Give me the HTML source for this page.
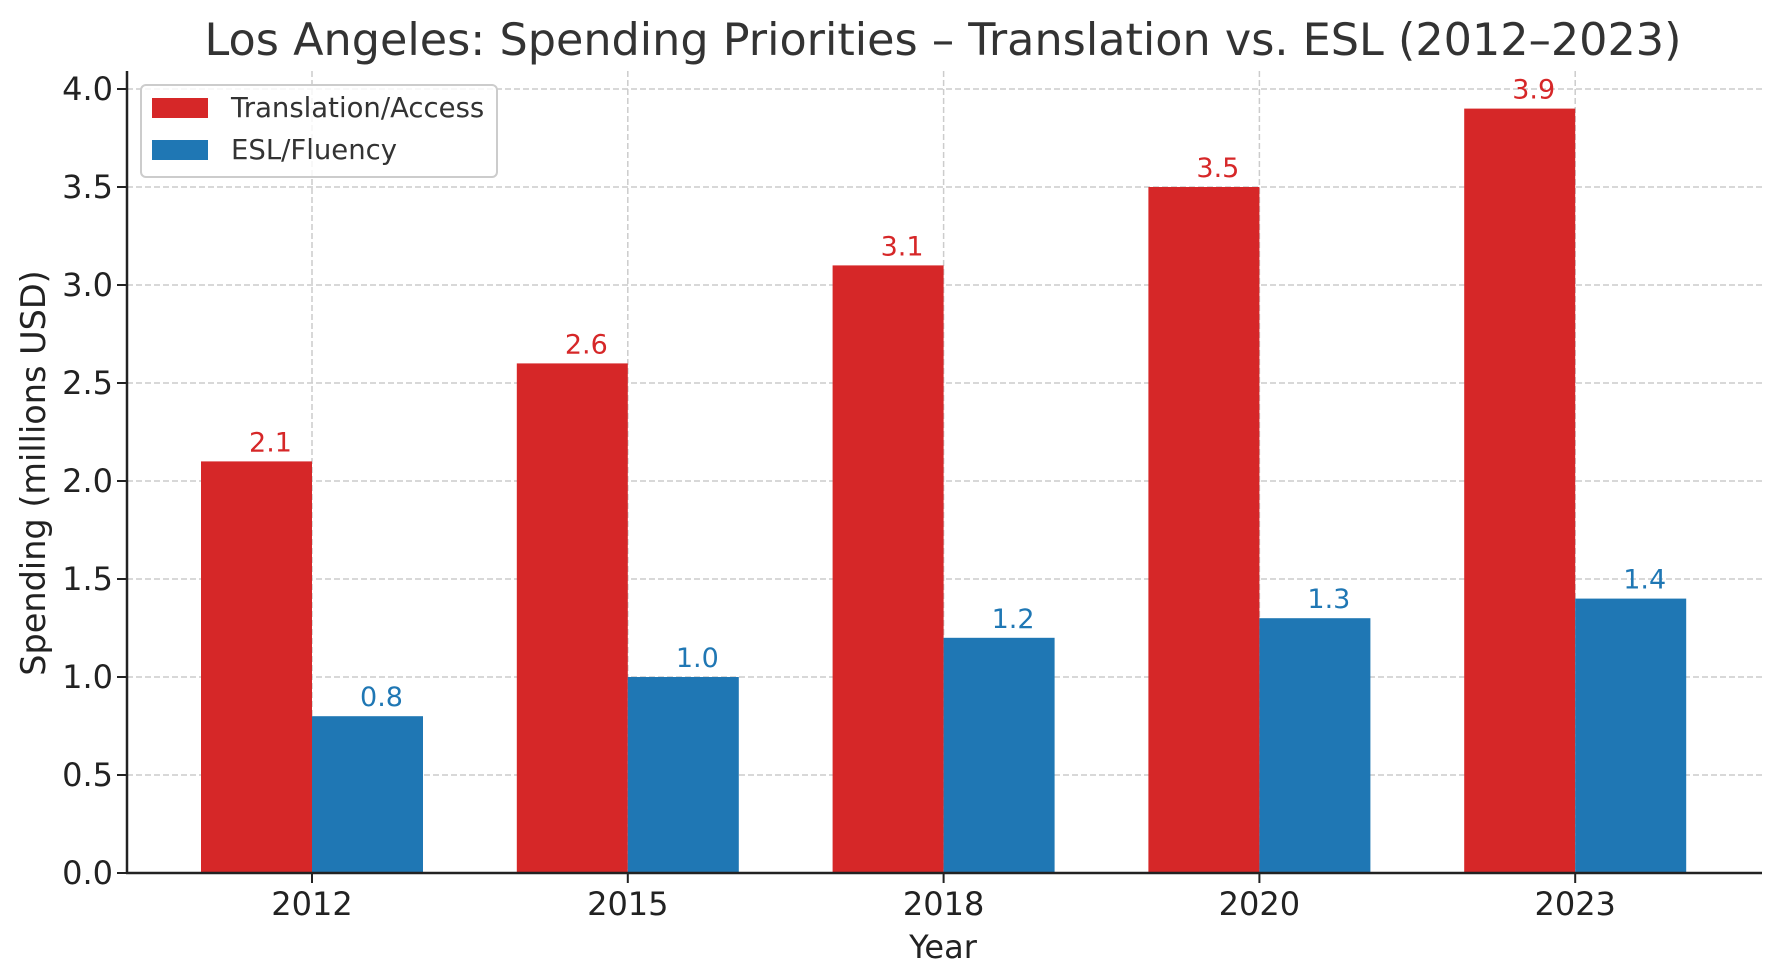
<!DOCTYPE html>
<html><head><meta charset="utf-8"><style>
body{margin:0;background:#fff}
svg{display:block;font-family:"DejaVu Sans","Liberation Sans",sans-serif}
</style></head><body>
<svg id="chart" width="1779" height="980" viewBox="0 0 1779 980">
<text x="943" y="55" font-size="44.5" fill="#333" text-anchor="middle">Los Angeles: Spending Priorities – Translation vs. ESL (2012–2023)</text>
<g id="grid"></g><g id="bars"></g><g id="axes"></g>
<text x="943" y="958" font-size="32" fill="#222" text-anchor="middle">Year</text>
<text transform="translate(45,473) rotate(-90)" font-size="33.5" fill="#222" text-anchor="middle">Spending (millions USD)</text>
<g>
<rect x="141" y="85" width="356" height="92" rx="5" fill="#fff" fill-opacity="0.8" stroke="#ccc" stroke-width="2"/>
<rect x="152" y="98" width="56" height="20" fill="#d62728"/>
<text x="231" y="117" font-size="27.5" fill="#333">Translation/Access</text>
<rect x="152" y="140" width="56" height="20" fill="#1f77b4"/>
<text x="231" y="159" font-size="27.5" fill="#333">ESL/Fluency</text>
</g>
</svg>
<script>
const categories=["2012","2015","2018","2020","2023"];
const translation=[2.1,2.6,3.1,3.5,3.9];
const esl=[0.8,1.0,1.2,1.3,1.4];
const yTicks=[0,0.5,1.0,1.5,2.0,2.5,3.0,3.5,4.0];
const NS="http://www.w3.org/2000/svg";
const L=127,R=1762,T=71,B=873;
const x0=312,step=315.8,bw=111;
function xs(i){return x0+i*step;}
function ys(v){return B-v*196;}
function mk(tag,attrs,parent,text){const e=document.createElementNS(NS,tag);for(const k in attrs)e.setAttribute(k,attrs[k]);if(text!==undefined)e.textContent=text;document.getElementById(parent).appendChild(e);return e;}
yTicks.forEach(v=>{
 const g=mk('line',{x1:L,x2:R,y1:ys(v),y2:ys(v),stroke:'#ccc','stroke-width':1.5,'stroke-dasharray':'6,3'},'grid');
 
 
 const t=mk('line',{x1:L-10,x2:L,y1:ys(v),y2:ys(v),stroke:'#222','stroke-width':2},'axes');
 
 
 const l=mk('text',{x:L-14,y:ys(v)+11,'font-size':32,fill:'#222','text-anchor':'end'},'axes',v.toFixed(1));
 
 
});
categories.forEach((c,i)=>{
 const g=mk('line',{x1:xs(i),x2:xs(i),y1:T,y2:B,stroke:'#ccc','stroke-width':1.5,'stroke-dasharray':'6,3'},'grid');
 
 
 const r=mk('rect',{x:xs(i)-bw,y:ys(translation[i]),width:bw,height:B-ys(translation[i]),fill:'#d62728'},'bars');
 
 
 const b=mk('rect',{x:xs(i),y:ys(esl[i]),width:bw,height:B-ys(esl[i]),fill:'#1f77b4'},'bars');
 
 
 const rl=mk('text',{x:xs(i)-bw/2+14,y:ys(translation[i])-10,'font-size':27,fill:'#d62728','text-anchor':'middle'},'bars',translation[i].toFixed(1));
 
 
 const bl=mk('text',{x:xs(i)+bw/2+14,y:ys(esl[i])-10,'font-size':27,fill:'#1f77b4','text-anchor':'middle'},'bars',esl[i].toFixed(1));
 
 
 const t=mk('line',{x1:xs(i),x2:xs(i),y1:B,y2:B+10,stroke:'#222','stroke-width':2},'axes');
 
 
 const l=mk('text',{x:xs(i),y:B+42,'font-size':32,fill:'#222','text-anchor':'middle'},'axes',c);
 
 
});
const ya=mk('line',{x1:L,x2:L,y1:T,y2:B+1,stroke:'#222','stroke-width':2.5},'axes');


const xa=mk('line',{x1:L-1,x2:R,y1:B,y2:B,stroke:'#222','stroke-width':2.5},'axes');


</script>
</body></html>
